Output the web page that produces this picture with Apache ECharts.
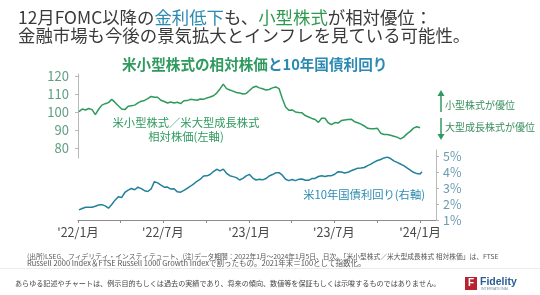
<!DOCTYPE html>
<html>
<head>
<meta charset="utf-8">
<script src="https://cdn.jsdelivr.net/npm/echarts@6/dist/echarts.min.js"></script>
<style>
html, body { margin: 0; padding: 0; background: #fff; }
#main { width: 540px; height: 295px; }
</style>
</head>
<body>
<div id="main"></div>
<script>
// weekly readings from 2022-01-03, last point is 2024-01-05
var firstWeek = '2022-01-03';
var lastDay = '2024-01-05';

// 米小型株式／米大型成長株式 相対株価 (2021年末=100)
var ratio = [
  100.2, 101.6, 101.1, 101.9, 101.3, 98.5, 101.5, 103.8, 104.6, 105.2,
  107.0, 105.3, 103.4, 101.6, 101.3, 103.2, 103.5, 103.8, 105.0, 106.0,
  106.4, 107.4, 108.6, 108.2, 108.2, 106.5, 105.8, 105.0, 105.5, 105.0,
  105.4, 104.6, 106.2, 106.3, 107.0, 106.8, 106.5, 107.2, 107.0, 107.8,
  108.3, 109.0, 110.5, 112.8, 115.5, 113.0, 112.2, 111.6, 110.8, 110.5,
  110.0, 110.3, 111.9, 113.6, 114.3, 113.4, 112.9, 112.2, 112.5, 113.4,
  113.9, 113.0, 107.5, 102.8, 100.9, 101.1, 100.0, 99.7, 99.5, 98.0,
  97.2, 96.4, 95.8, 94.2, 96.5, 96.5, 94.0, 93.0, 94.1, 93.8,
  95.2, 95.5, 95.8, 96.0, 94.6, 94.0, 93.2, 92.2, 90.9, 90.6,
  90.6, 90.9, 88.2, 87.5, 87.5, 87.0, 86.5, 86.0, 85.0, 86.0,
  87.8, 89.2, 91.0, 91.8, 91.2, 90.4
];

// 米10年国債利回り (%)
var yield10 = [
  1.63, 1.72, 1.80, 1.80, 1.80, 1.86, 1.94, 1.96, 1.88, 1.74,
  1.97, 2.24, 2.45, 2.40, 2.72, 2.87, 2.97, 2.89, 3.05, 2.96,
  2.83, 2.78, 2.94, 3.40, 3.32, 3.18, 3.05, 3.06, 2.93, 2.95,
  2.76, 2.74, 2.85, 2.98, 3.11, 3.26, 3.42, 3.55, 3.75, 3.76,
  3.84, 4.03, 4.17, 4.07, 4.18, 3.92, 3.77, 3.71, 3.65, 3.50,
  3.60, 3.76, 3.85, 3.62, 3.50, 3.55, 3.51, 3.59, 3.75, 3.84,
  3.95, 3.96, 3.80, 3.55, 3.46, 3.53, 3.46, 3.54, 3.56, 3.48,
  3.48, 3.59, 3.60, 3.72, 3.76, 3.72, 3.77, 3.77, 3.86, 4.02,
  4.00, 3.94, 3.98, 4.08, 4.16, 4.24, 4.25, 4.28, 4.40, 4.49,
  4.62, 4.72, 4.78, 4.88, 4.93, 4.84, 4.70, 4.60, 4.50, 4.40,
  4.26, 4.12, 3.98, 3.90, 3.88, 4.02
];

var xLabelDates = ['2022-01-01', '2022-07-01', '2023-01-01', '2023-07-01', '2024-01-01'];
var xTickDates = ['2022-01-01', '2022-04-01', '2022-07-01', '2022-10-01', '2023-01-01',
  '2023-04-01', '2023-07-01', '2023-10-01', '2024-01-01'];
var leftTicks = [80, 90, 100, 110, 120];
var rightTicks = [1, 2, 3, 4, 5];

function ts(s) {
  var p = s.split('-');
  return new Date(+p[0], +p[1] - 1, +p[2]).getTime();
}

var dates = [];
var t0 = ts(firstWeek);
for (var i = 0; i < ratio.length - 1; i++) dates.push(t0 + i * 7 * 86400000);
dates.push(ts(lastDay));

var xMin = ts('2022-01-01');
var xMax = ts('2024-02-04');

var green = '#2e9a5e';
var blue = '#21809c';
var font = 'Noto Sans CJK JP';

var myChart = echarts.init(document.getElementById('main'));
var option = {
  backgroundColor: '#fff',
  textStyle: { fontFamily: font },
  title: [{
    left: 13, top: 3,
    text: '{a|12月FOMC以降の}{b|金利低下}{a|も、}{c|小型株式}{a|が相対優位：}\n{a|金融市場も今後の景気拡大とインフレを見ている可能性。}',
    textStyle: {
      fontWeight: 'normal',
      rich: {
        a: { fontSize: 17.4, color: '#3a3a3a', lineHeight: 18, fontFamily: font, fontWeight: 'normal' },
        b: { fontSize: 17.4, color: '#2b8ab2', lineHeight: 18, fontFamily: font, fontWeight: 'normal' },
        c: { fontSize: 17.4, color: '#2e9a4e', lineHeight: 18, fontFamily: font, fontWeight: 'normal' }
      }
    }
  }, {
    left: 117, top: 52,
    text: '{g|米小型株式の相対株価}{b|と10年国債利回り}',
    textStyle: {
      rich: {
        g: { fontSize: 14.6, color: green, fontFamily: font, fontWeight: 'bold' },
        b: { fontSize: 14.6, color: '#2b8ab2', fontFamily: font, fontWeight: 'bold' }
      }
    }
  }],
  grid: [
    { left: 78, top: 74, width: 358, height: 84 },
    { left: 78, top: 150, width: 358, height: 70 }
  ],
  xAxis: [{
    gridIndex: 0, type: 'value', min: xMin, max: xMax, show: false
  }, {
    gridIndex: 1, type: 'value', min: xMin, max: xMax,
    axisLine: { lineStyle: { color: '#8c8c8c', width: 1 } },
    axisTick: { show: true, customValues: xTickDates.map(ts), length: 3, lineStyle: { color: '#8c8c8c' } },
    axisLabel: {
      customValues: xLabelDates.map(ts),
      color: '#4a4a4a', fontSize: 12.5, margin: 6,
      formatter: function (v) {
        var d = new Date(v);
        return "'" + String(d.getFullYear()).slice(2) + '/' + (d.getMonth() + 1) + '月';
      }
    },
    splitLine: { show: false }
  }],
  yAxis: [{
    gridIndex: 0, type: 'value', position: 'left', min: 74.4, max: 121.1,
    axisLine: { show: true, lineStyle: { color: '#b8b8b8' } },
    axisTick: { show: true, customValues: leftTicks, length: 3, lineStyle: { color: '#b8b8b8' } },
    axisLabel: { customValues: leftTicks, color: '#5f9f82', fontSize: 13, margin: 9 },
    splitLine: { show: false }
  }, {
    gridIndex: 1, type: 'value', position: 'right', min: 1, max: 5.375,
    axisLine: { show: true, lineStyle: { color: '#b8b8b8' } },
    axisTick: { show: true, customValues: rightTicks, length: 3, lineStyle: { color: '#b8b8b8' } },
    axisLabel: {
      customValues: rightTicks, color: '#6b9cb2', fontSize: 12.5, margin: 7,
      formatter: function (v) { return v + '%'; }
    },
    splitLine: { show: false }
  }],
  series: [{
    type: 'line', xAxisIndex: 0, yAxisIndex: 0, symbol: 'none',
    lineStyle: { color: green, width: 1.5 },
    data: ratio.map(function (v, i) { return [dates[i], v]; })
  }, {
    type: 'line', xAxisIndex: 1, yAxisIndex: 1, symbol: 'none',
    lineStyle: { color: blue, width: 1.5 },
    data: yield10.map(function (v, i) { return [dates[i], v]; })
  }],
  graphic: [
    { type: 'text', x: 186, y: 123, style: { text: '米小型株式／米大型成長株式', fill: green, fontSize: 11.3, fontFamily: font, align: 'center', verticalAlign: 'middle' } },
    { type: 'text', x: 186, y: 137, style: { text: '相対株価(左軸)', fill: green, fontSize: 11.3, fontFamily: font, align: 'center', verticalAlign: 'middle' } },
    { type: 'text', x: 425, y: 195, style: { text: '米10年国債利回り(右軸)', fill: '#2b8ab2', fontSize: 11.3, fontFamily: font, align: 'right', verticalAlign: 'middle' } },
    { type: 'text', x: 445, y: 105, style: { text: '小型株式が優位', fill: '#3a8f5e', fontSize: 10, fontFamily: font, verticalAlign: 'middle' } },
    { type: 'text', x: 445, y: 127, style: { text: '大型成長株式が優位', fill: '#3a8f5e', fontSize: 10, fontFamily: font, verticalAlign: 'middle' } },
    { type: 'line', shape: { x1: 441, y1: 95, x2: 441, y2: 112 }, style: { stroke: green, lineWidth: 1.5 } },
    { type: 'polygon', shape: { points: [[441, 90], [437.5, 96], [444.5, 96]] }, style: { fill: green } },
    { type: 'line', shape: { x1: 441, y1: 118, x2: 441, y2: 135 }, style: { stroke: green, lineWidth: 1.5 } },
    { type: 'polygon', shape: { points: [[441, 140], [437.5, 134], [444.5, 134]] }, style: { fill: green } },
    { type: 'text', x: 27, y: 256, style: { text: '(出所)LSEG、フィデリティ・インスティテュート、(注)データ期間：2022年1月～2024年1月5日、日次。「米小型株式／米大型成長株式 相対株価」は、FTSE', fill: '#555', fontSize: 6.75, fontFamily: font, verticalAlign: 'middle' } },
    { type: 'text', x: 27, y: 263.5, style: { text: 'Russell 2000 Index＆FTSE Russell 1000 Growth Indexで割ったもの。2021年末＝100として指数化。', fill: '#555', fontSize: 7.5, fontFamily: font, verticalAlign: 'middle' } },
    { type: 'line', shape: { x1: 0, y1: 268.5, x2: 540, y2: 268.5 }, style: { stroke: '#ececec', lineWidth: 1 } },
    { type: 'text', x: 15, y: 283, style: { text: 'あらゆる記述やチャートは、例示目的もしくは過去の実績であり、将来の傾向、数値等を保証もしくは示唆するものではありません。', fill: '#444', fontSize: 7.1, fontFamily: font, verticalAlign: 'middle' } },
    { type: 'rect', shape: { x: 465, y: 277, width: 12, height: 13 }, style: { fill: '#b8232f' } },
    { type: 'text', x: 471, y: 283.5, style: { text: 'F', fill: '#fff', fontSize: 10, fontWeight: 'bold', fontFamily: 'Liberation Sans', align: 'center', verticalAlign: 'middle' } },
    { type: 'text', x: 480, y: 282, style: { text: 'Fidelity', fill: '#2a5c95', fontSize: 10.5, fontWeight: 'bold', fontFamily: 'Liberation Sans', verticalAlign: 'middle' } },
    { type: 'text', x: 481, y: 289.5, style: { text: 'INTERNATIONAL', fill: '#7a8fa8', fontSize: 3.5, fontFamily: 'Liberation Sans', verticalAlign: 'middle' } }
  ]
};
myChart.setOption(option);
</script>
</body>
</html>
